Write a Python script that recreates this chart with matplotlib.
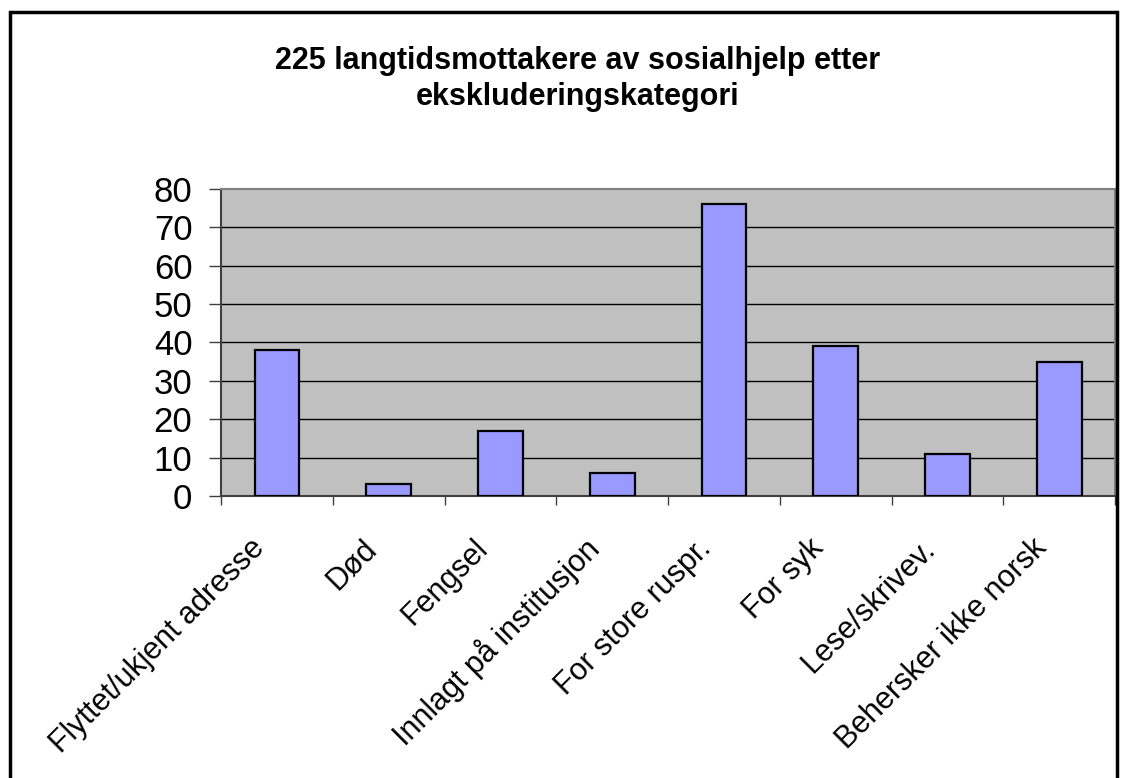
import matplotlib.pyplot as plt
from matplotlib.patches import Rectangle
from matplotlib.transforms import ScaledTranslation

categories = ["Flyttet/ukjent adresse", "Død", "Fengsel", "Innlagt på institusjon",
              "For store ruspr.", "For syk", "Lese/skrivev.", "Behersker ikke norsk"]
values = [38, 3, 17, 6, 76, 39, 11, 35]
y_ticks = [0, 10, 20, 30, 40, 50, 60, 70, 80]
title = "225 langtidsmottakere av sosialhjelp etter\nekskluderingskategori"

plt.rcParams['font.family'] = ['Liberation Sans', 'DejaVu Sans']

fig = plt.figure(figsize=(11.22, 7.78), dpi=100)
ax = fig.add_axes([0.197, 0.3625, 0.7968, 0.3946])

x = list(range(len(categories)))
ax.bar(x, values, width=0.4, color="#9999FF", edgecolor="black", linewidth=1.6, zorder=3)

ax.set_facecolor("#C0C0C0")
ax.set_xlim(-0.5, len(categories) - 0.5)
ax.set_ylim(0, 80)
ax.set_yticks(y_ticks)
ax.set_yticklabels([str(v) for v in y_ticks], fontsize=25)
for v in y_ticks[1:-1]:
    ax.axhline(v, color="black", linewidth=1, zorder=1)

# category boundaries get the tick marks, labels are placed by hand at the centres
ax.set_xticks([i - 0.5 for i in range(len(categories) + 1)])
ax.set_xticklabels([])
ax.tick_params(axis="x", length=6.5, width=1, color="#404040", direction="out")
ax.tick_params(axis="y", length=8.6, width=1, color="#404040", direction="out", pad=12)

shift = ScaledTranslation(-0.17, -0.48, fig.dpi_scale_trans)
for i, name in zip(x, categories):
    ax.text(i, 0, name, transform=ax.get_xaxis_transform() + shift,
            fontsize=22, rotation=45, ha="right", va="center",
            rotation_mode="anchor", clip_on=False)

for s in ax.spines.values():
    s.set_color("#808080")
    s.set_linewidth(1.5)
ax.spines["left"].set_color("#404040")
ax.spines["bottom"].set_color("#404040")

fig.text(578 / 1122, 1 - 79 / 778, title, ha="center", va="center",
         fontsize=22, fontweight="bold", linespacing=1.3)

# chart area frame
fig.patches.append(Rectangle((10 / 1122, -0.05), 1107 / 1122, 1 - 12 / 778 + 0.05,
                             transform=fig.transFigure, fill=False,
                             edgecolor="black", linewidth=2.5))

fig.savefig("out.png", dpi=100)
